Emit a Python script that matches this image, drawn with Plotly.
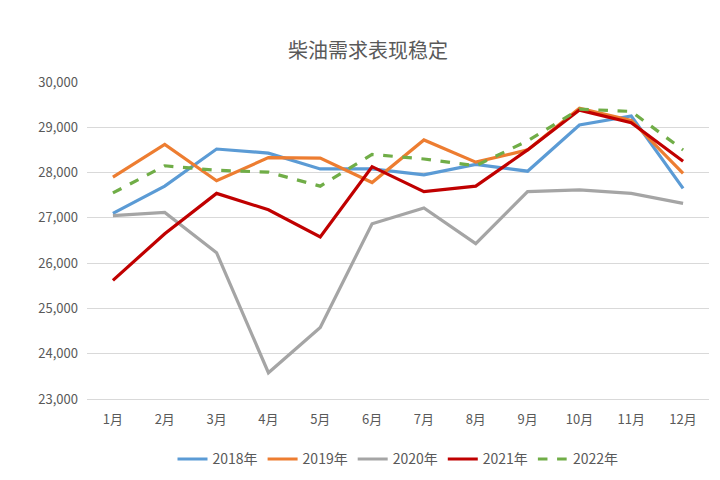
import plotly.graph_objects as go

months = ["1月","2月","3月","4月","5月","6月","7月","8月","9月","10月","11月","12月"]
s2018 = [27100,27700,28520,28430,28080,28080,27950,28180,28030,29050,29250,27650]
s2019 = [27900,28620,27820,28330,28320,27780,28720,28230,28500,29420,29150,27980]
s2020 = [27050,27120,26230,23580,24580,26870,27220,26430,27580,27620,27540,27320]
s2021 = [25620,26650,27540,27180,26580,28130,27580,27700,28500,29380,29100,28250]
s2022 = [27550,28150,28050,28010,27700,28400,28300,28150,28700,29400,29350,28500]

series = [("2018年", s2018, "#5B9BD5", "solid"),
          ("2019年", s2019, "#ED7D31", "solid"),
          ("2020年", s2020, "#A5A5A5", "solid"),
          ("2021年", s2021, "#C00000", "solid"),
          ("2022年", s2022, "#70AD47", "dash")]

fig = go.Figure()
for name, ys, c, d in series:
    fig.add_trace(go.Scatter(x=months, y=ys, name=name, mode="lines",
                             line=dict(color=c, width=3.2, dash=d)))
fig.update_layout(
    width=720, height=480, plot_bgcolor="white", paper_bgcolor="white",
    font=dict(family="Noto Sans CJK SC", color="#595959", size=13),
    title=dict(text="柴油需求表现稳定", x=0.5, y=0.925, xanchor="center",
               font=dict(size=20, color="#595959")),
    margin=dict(l=79, r=19, t=74, b=89),
    legend=dict(orientation="h", x=0.5, xanchor="center", y=-0.14, yanchor="top",
                font=dict(size=14)),
    xaxis=dict(showgrid=False, showline=True, linecolor="#D9D9D9", ticks="",
               range=[-0.5, 11.5], ticklabelstandoff=8),
    yaxis=dict(range=[23000, 30000], dtick=1000, tickformat=",", gridcolor="#D9D9D9",
               zeroline=False, ticklabelstandoff=8),
)
fig.write_html("out.html")
